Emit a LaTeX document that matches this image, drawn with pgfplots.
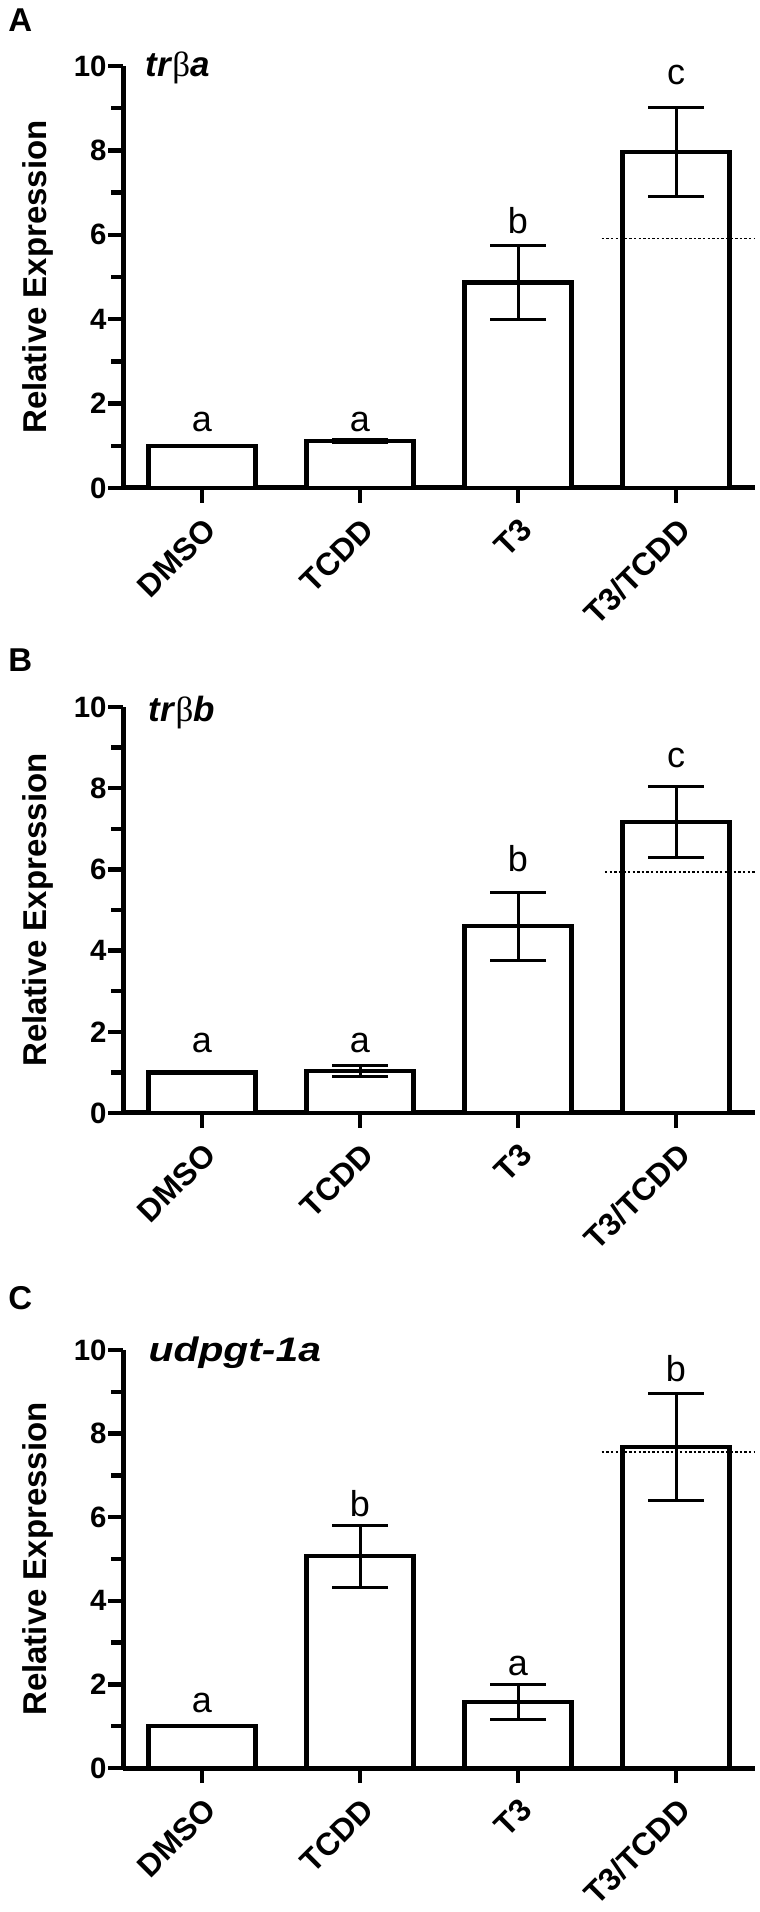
\documentclass[border=0pt]{standalone}
\usepackage{fontspec}
\setmainfont{Liberation Sans}
\newfontfamily\greekfont{Liberation Serif}
\usepackage{graphicx}
\usepackage{pgfplots}
\usepackage{pgfplotstable}
\pgfplotsset{compat=1.18}
\pgfplotstableread{
x y e
0 1.00 0.00
1 1.11 0.03
2 4.87 0.87
3 7.96 1.05
}\dataA
\pgfplotstableread{
x y e
0 1.00 0.00
1 1.04 0.14
2 4.60 0.84
3 7.17 0.87
}\dataB
\pgfplotstableread{
x y e
0 1.00 0.00
1 5.07 0.74
2 1.58 0.42
3 7.68 1.29
}\dataC
\tikzset{
  letter/.style={anchor=base, font=\fontsize{18}{18}\selectfont},
  dotline/.style={black, line width=0.7pt, dash pattern=on 1.2pt off 1.1pt},
  plabel/.style={anchor=base west, font=\bfseries\fontsize{16.5}{17}\selectfont, inner sep=0pt},
}
\pgfplotsset{
  panel/.style={
    scale only axis, width=316pt,
    xmin=-0.5, xmax=3.5, ymin=0, ymax=10,
    axis lines*=left, clip=false,
    axis line style={line width=2.5pt, black},
    ytick={0,2,...,10}, minor ytick={1,3,...,9},
    xtick={0,1,2,3}, xticklabels={DMSO,TCDD,T3,T3/TCDD},
    tick align=outside,
    major tick length=7.5pt, minor tick length=6pt,
    every tick/.style={black, line width=2.2pt},
    /pgf/number format/assume math mode=true,
    yticklabel style={font=\bfseries\fontsize{14.7}{15}\selectfont, inner sep=0.5pt},
    xticklabel shift=5pt,
    xticklabel style={font=\bfseries\fontsize{15.8}{16}\selectfont, rotate=45, anchor=north east, inner sep=1pt},
    ylabel={Relative Expression},
    ylabel style={font=\bfseries\fontsize{16.5}{17}\selectfont, at={(axis description cs:-0.1345,0.5)}, anchor=center},
  },
  barstyle/.style={ybar, bar width=0.68, fill=white, draw=black, line width=2.25pt,
    error bars/.cd, y dir=both, y explicit, error mark=|,
    error bar style={line width=1.5pt, black},
    error mark options={line width=1.5pt, mark size=14pt, black}},
}
\begin{document}
\begin{tikzpicture}
\path (0,0) rectangle (380pt,956pt);
\node[plabel] at (4pt,940pt) {A};
\node[plabel] at (4pt,620pt) {B};
\node[plabel] at (4pt,301pt) {C};

% Panel A
\begin{axis}[panel, height=211pt, at={(61.5pt,712pt)}, anchor=south west]
\addplot[barstyle] table[x=x, y=y, y error=e] {\dataA};
\addplot[dotline] coordinates {(2.53,5.91) (3.5,5.91)};
\node[letter] at (axis cs:0,1.33) {a};
\node[letter] at (axis cs:1,1.33) {a};
\node[letter] at (axis cs:2,6.04) {b};
\node[letter] at (axis cs:3,9.55) {c};
\node[anchor=base west, font=\fontsize{17.5}{18}\selectfont, inner sep=0pt] at (axis cs:-0.36,9.76) {\textbf{\textit{tr}}{\greekfont β}\textbf{\textit{a}}};
\end{axis}

% Panel B
\begin{axis}[panel, height=203pt, at={(61.5pt,399.5pt)}, anchor=south west]
\addplot[barstyle] table[x=x, y=y, y error=e] {\dataB};
\addplot[dotline] coordinates {(2.55,5.94) (3.5,5.94)};
\node[letter] at (axis cs:0,1.48) {a};
\node[letter] at (axis cs:1,1.48) {a};
\node[letter] at (axis cs:2,5.94) {b};
\node[letter] at (axis cs:3,8.52) {c};
\node[anchor=base west, font=\fontsize{17.5}{18}\selectfont, inner sep=0pt] at (axis cs:-0.34,9.64) {\textbf{\textit{tr}}{\greekfont β}\textbf{\textit{b}}};
\end{axis}

% Panel C
\begin{axis}[panel, height=209pt, at={(61.5pt,72pt)}, anchor=south west]
\addplot[barstyle] table[x=x, y=y, y error=e] {\dataC};
\addplot[dotline] coordinates {(2.53,7.56) (3.5,7.56)};
\node[letter] at (axis cs:0,1.32) {a};
\node[letter] at (axis cs:1,6.01) {b};
\node[letter] at (axis cs:2,2.22) {a};
\node[letter] at (axis cs:3,9.24) {b};
\node[anchor=base west, font=\fontsize{17}{18}\selectfont, inner sep=0pt] at (axis cs:-0.34,9.72) {\scalebox{1.2}[1]{\textbf{\textit{udpgt-1a}}}};
\end{axis}
\end{tikzpicture}
\end{document}
